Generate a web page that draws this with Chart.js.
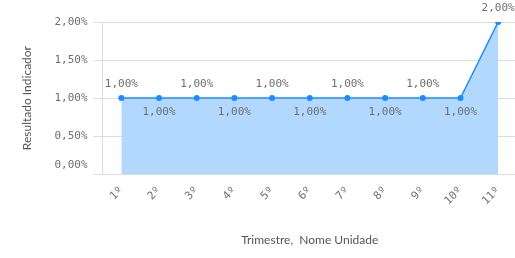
<!DOCTYPE html>
<html>
<head>
<meta charset="utf-8">
<script src="https://cdn.jsdelivr.net/npm/chart.js@4/dist/chart.umd.min.js"></script>
<style>
  html, body { margin: 0; padding: 0; background: #fff; overflow: hidden; }
</style>
</head>
<body>
<canvas id="chart" width="521" height="258"></canvas>
<script>
const categories = ["1º", "2º", "3º", "4º", "5º", "6º", "7º", "8º", "9º", "10º", "11º"];
const resultValues = [1, 1, 1, 1, 1, 1, 1, 1, 1, 1, 2];
const yTicks = [0, 0.5, 1, 1.5, 2];

const monoFont = "'DejaVu Sans Mono', monospace";
const textGray = "#6e6e6e";

function fmtPct(v) {
  return v.toFixed(2).replace(".", ",") + "%";
}

// value labels, alternating above / below the points
const pointLabels = {
  id: "pointLabels",
  afterDatasetsDraw(chart) {
    const ctx = chart.ctx;
    const meta = chart.getDatasetMeta(0);
    ctx.save();
    ctx.font = "11px " + monoFont;
    ctx.fillStyle = textGray;
    ctx.textAlign = "center";
    ctx.textBaseline = "middle";
    meta.data.forEach((pt, i) => {
      const dy = i % 2 === 0 ? -14 : 14;
      ctx.fillText(fmtPct(resultValues[i]), pt.x, pt.y + dy);
    });
    ctx.restore();
  },
};

new Chart(document.getElementById("chart"), {
  type: "line",
  data: {
    labels: categories,
    datasets: [
      {
        data: resultValues,
        borderColor: "#1a8cff",
        backgroundColor: "rgba(179, 216, 255, 1)",
        borderWidth: 1.5,
        fill: "origin",
        pointRadius: 3,
        pointBackgroundColor: "#1a8cff",
        pointBorderWidth: 0,
        tension: 0,
      },
    ],
  },
  options: {
    responsive: false,
    animation: false,
    layout: { padding: { top: 22, left: 20, right: 0, bottom: 11 } },
    plugins: {
      legend: { display: false },
      tooltip: { enabled: false },
    },
    scales: {
      x: {
        offset: true,
        grid: { display: false },
        border: { display: false },
        ticks: {
          color: textGray,
          font: { size: 11, family: monoFont },
          minRotation: 45,
          maxRotation: 45,
          padding: 2,
        },
        title: {
          display: true,
          text: "Trimestre,  Nome Unidade",
          color: "#555",
          font: { size: 12, family: "Lato, sans-serif" },
          padding: { top: 23, bottom: 0 },
        },
      },
      y: {
        min: 0,
        max: 2,
        afterBuildTicks(scale) {
          scale.ticks = yTicks.map((v) => ({ value: v }));
        },
        grid: { color: "#dcdcdc", tickLength: 9, lineWidth: 1 },
        border: { display: true, color: "#dcdcdc" },
        ticks: {
          autoSkip: false,
          color: textGray,
          font: { size: 11, family: monoFont, lineHeight: "18px" },
          padding: 6,
          callback: (v) => (v === 0 ? [fmtPct(v), ""] : fmtPct(v)),
        },
        title: {
          display: true,
          text: "Resultado Indicador",
          color: "#555",
          font: { size: 12, family: "Lato, sans-serif" },
          padding: { top: 0, bottom: 14 },
        },
      },
    },
  },
  plugins: [pointLabels],
});
</script>
</body>
</html>
